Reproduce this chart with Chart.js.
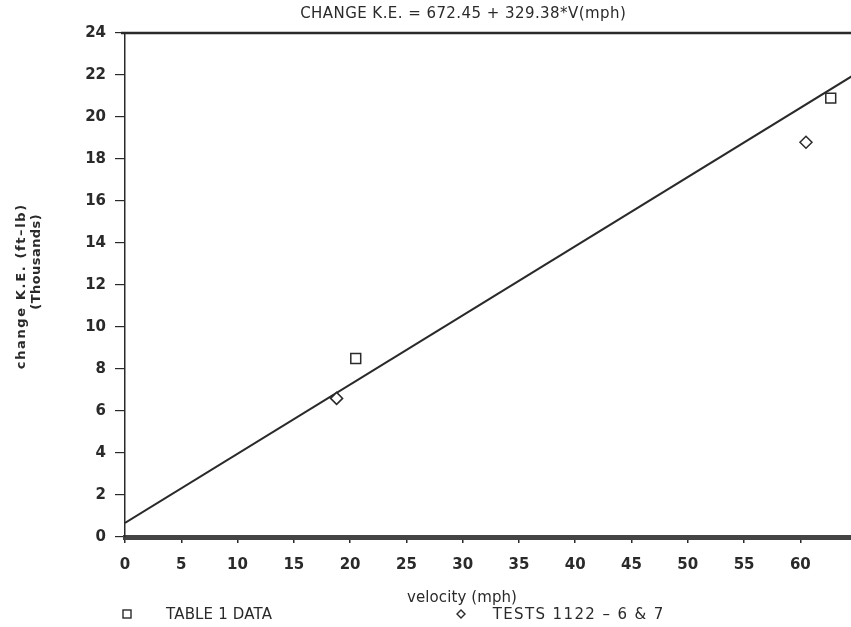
<!DOCTYPE html>
<html><head><meta charset="utf-8">
<script src="https://cdn.jsdelivr.net/npm/chart.js@4"></script>
<style>html,body{margin:0;padding:0;background:#fff}#wrap{width:851px;height:627px}</style>
</head><body><div id="wrap"><canvas id="c" width="851" height="627"></canvas></div>
<script>
const titleText = "CHANGE K.E. = 672.45 + 329.38*V(mph)";
const xTicks = [0,5,10,15,20,25,30,35,40,45,50,55,60];
const yTicks = [0,2,4,6,8,10,12,14,16,18,20,22,24];
const table1X = [20.5, 62.7];
const table1Y = [8.5, 20.9];
const testsX = [18.8, 60.5];
const testsY = [6.6, 18.8];
const fitX = [0, 65];
const fitY = [0.672, 22.08];
const legendLabels = ["TABLE 1 DATA", "TESTS 1122 \u2013 6 & 7"];
const xTitle = "velocity (mph)";
const yTitle = ["change K.E. (ft\u2013lb)", "(Thousands)"];

const ink = '#2a2a2a';
const FONT = "'DejaVu Sans', sans-serif";

function fitText(ctx, text, cx, cy, width, font) {
  ctx.font = font;
  ctx.letterSpacing = '0px';
  const w = ctx.measureText(text).width;
  const n = text.length;
  const ls = (width - w) / n;
  ctx.letterSpacing = ls.toFixed(2) + 'px';
  ctx.textAlign = 'center';
  ctx.textBaseline = 'middle';
  ctx.fillText(text, cx + ls / 2, cy);
  ctx.letterSpacing = '0px';
}

const deco = {
  id: 'deco',
  afterDraw(chart) {
    const ctx = chart.ctx, a = chart.chartArea;
    ctx.save();
    ctx.strokeStyle = ink; ctx.lineWidth = 2.5;
    ctx.beginPath(); ctx.moveTo(a.left - 4, a.top); ctx.lineTo(a.right, a.top); ctx.stroke();
    ctx.fillStyle = ink;
    fitText(ctx, titleText, 463, 14, 326, "15px " + FONT);
    fitText(ctx, xTitle, 462, 598, 110, "15px " + FONT);
    fitText(ctx, legendLabels[0], 219, 615, 106, "15px " + FONT);
    fitText(ctx, legendLabels[1], 578, 615, 172, "15px " + FONT);
    ctx.lineWidth = 1.4; ctx.strokeStyle = ink;
    ctx.strokeRect(123, 610, 8, 8);
    ctx.beginPath();
    ctx.moveTo(461, 610); ctx.lineTo(465, 614); ctx.lineTo(461, 618); ctx.lineTo(457, 614); ctx.closePath(); ctx.stroke();
    ctx.save();
    ctx.translate(22, 287); ctx.rotate(-Math.PI/2);
    fitText(ctx, yTitle[0], 0, 0, 166, "bold 13px " + FONT);
    ctx.restore();
    ctx.save();
    ctx.translate(37, 262); ctx.rotate(-Math.PI/2);
    fitText(ctx, yTitle[1], 0, 0, 96, "bold 13px " + FONT);
    ctx.restore();
    ctx.restore();
  }
};

new Chart(document.getElementById('c'), {
  type: 'scatter',
  data: {
    datasets: [
      { label: 'fit', type: 'line', data: fitX.map((x,i)=>({x, y: fitY[i]})), borderColor: ink, borderWidth: 2, pointRadius: 0, fill: false, order: 3 },
      { label: legendLabels[0], data: table1X.map((x,i)=>({x, y: table1Y[i]})), pointStyle: 'rect', pointRadius: 7, borderColor: ink, backgroundColor: 'rgba(255,255,255,1)', borderWidth: 1.5, order: 1 },
      { label: legendLabels[1], data: testsX.map((x,i)=>({x, y: testsY[i]})), pointStyle: 'rectRot', pointRadius: 6, borderColor: ink, backgroundColor: 'rgba(255,255,255,1)', borderWidth: 1.5, order: 2 }
    ]
  },
  options: {
    responsive: false, animation: false,
    layout: { autoPadding: false, padding: { top: 33, right: 0, left: 0, bottom: 0 } },
    plugins: { legend: { display: false }, title: { display: false }, tooltip: { enabled: false } },
    scales: {
      x: {
        type: 'linear', min: 0, max: 64.5,
        afterBuildTicks: s => { s.ticks = xTicks.map(v => ({ value: v })); },
        afterFit: s => { s.height = 90; },
        grid: { drawOnChartArea: false, drawTicks: true, tickLength: 6, color: ink, lineWidth: 1.5 },
        border: { display: true, color: '#444', width: 5 },
        ticks: { color: '#2a2a2a', font: { size: 15, family: FONT, weight: 'bold' }, padding: 13, maxRotation: 0, autoSkip: false }
      },
      y: {
        type: 'linear', min: 0, max: 24,
        afterBuildTicks: s => { s.ticks = yTicks.map(v => ({ value: v })); },
        afterFit: s => { s.width = 125; },
        grid: { drawOnChartArea: false, drawTicks: true, tickLength: 10, color: ink, lineWidth: 1.2 },
        border: { display: true, color: ink, width: 1.5 },
        ticks: { color: '#2a2a2a', font: { size: 15, family: FONT, weight: 'bold' }, padding: 9, autoSkip: false }
      }
    }
  },
  plugins: [deco]
});
</script></body></html>
